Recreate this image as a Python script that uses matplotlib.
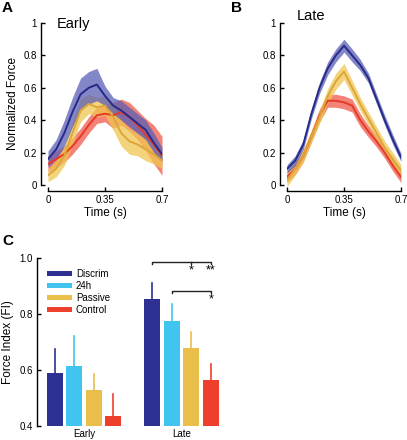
import matplotlib
matplotlib.use("Agg")
import matplotlib.pyplot as plt
import numpy as np

plt.rcParams['font.family'] = ['Liberation Sans', 'DejaVu Sans']

# ---- data ----
time = [0, 0.05, 0.1, 0.15, 0.2, 0.25, 0.3, 0.35, 0.4, 0.45, 0.5, 0.55, 0.6, 0.65, 0.7]

early_discrim = [0.16, 0.22, 0.32, 0.45, 0.56, 0.60, 0.62, 0.55, 0.49, 0.46, 0.42, 0.38, 0.34, 0.26, 0.19]
early_discrim_err = [0.05, 0.06, 0.08, 0.09, 0.10, 0.10, 0.10, 0.06, 0.05, 0.06, 0.06, 0.06, 0.06, 0.06, 0.04]
early_passive = [0.06, 0.10, 0.18, 0.32, 0.46, 0.50, 0.48, 0.49, 0.42, 0.32, 0.27, 0.25, 0.22, 0.19, 0.15]
early_passive_err = [0.04, 0.05, 0.06, 0.07, 0.07, 0.06, 0.06, 0.06, 0.08, 0.08, 0.08, 0.07, 0.07, 0.06, 0.05]
early_control = [0.13, 0.16, 0.19, 0.24, 0.30, 0.37, 0.43, 0.44, 0.43, 0.45, 0.42, 0.37, 0.31, 0.25, 0.18]
early_control_err = [0.05, 0.05, 0.05, 0.05, 0.05, 0.05, 0.05, 0.05, 0.08, 0.08, 0.09, 0.09, 0.10, 0.12, 0.12]

late_discrim = [0.10, 0.15, 0.25, 0.44, 0.60, 0.72, 0.80, 0.86, 0.80, 0.74, 0.66, 0.53, 0.40, 0.28, 0.17]
late_discrim_err = [0.025, 0.03, 0.03, 0.03, 0.035, 0.04, 0.04, 0.04, 0.04, 0.035, 0.03, 0.03, 0.03, 0.03, 0.025]
late_passive = [0.03, 0.10, 0.18, 0.30, 0.42, 0.55, 0.64, 0.70, 0.60, 0.50, 0.41, 0.32, 0.23, 0.16, 0.09]
late_passive_err = [0.04, 0.04, 0.04, 0.04, 0.04, 0.045, 0.05, 0.05, 0.045, 0.04, 0.04, 0.04, 0.04, 0.04, 0.035]
late_control = [0.05, 0.10, 0.18, 0.30, 0.43, 0.52, 0.52, 0.51, 0.49, 0.40, 0.33, 0.27, 0.20, 0.12, 0.05]
late_control_err = [0.035, 0.035, 0.035, 0.035, 0.04, 0.04, 0.04, 0.04, 0.04, 0.04, 0.035, 0.035, 0.035, 0.035, 0.035]

groups = ['Discrim', '24h', 'Passive', 'Control']
phases = ['Early', 'Late']
fi_early = [0.59, 0.615, 0.53, 0.435]
fi_early_err = [0.085, 0.105, 0.055, 0.08]
fi_late = [0.855, 0.775, 0.68, 0.565]
fi_late_err = [0.055, 0.06, 0.055, 0.055]

bar_colors = ['#2e3192', '#41c4f0', '#eabe4b', '#ee3f2c']
band_cols = {'d': '#5a5fb5', 'p': '#f0c650', 'c': '#f05a48'}
line_cols = {'d': '#262a8a', 'p': '#dda53a', 'c': '#e53a28'}

W, H = 407, 440
fig = plt.figure(figsize=(W / 100, H / 100), dpi=100)

def px_axes(x0, x1, y0, y1):
    return fig.add_axes([x0 / W, 1 - y1 / H, (x1 - x0) / W, (y1 - y0) / H])

def style_curve_ax(ax):
    ax.set_xlim(0, 0.7)
    ax.set_ylim(0, 1)
    for s in ['top', 'right']:
        ax.spines[s].set_visible(False)
    ax.spines['left'].set_position(('outward', 5))
    ax.spines['bottom'].set_position(('outward', 4.5))
    ax.spines['left'].set_linewidth(1.0)
    ax.spines['bottom'].set_linewidth(1.0)
    ax.set_xticks([0, 0.35, 0.7])
    ax.set_xticklabels(['0', '0.35', '0.7'])
    ax.set_yticks([0, 0.2, 0.4, 0.6, 0.8, 1])
    ax.set_yticklabels(['0', '0.2', '0.4', '0.6', '0.8', '1'])
    ax.tick_params(direction='in', length=3, width=1, labelsize=7, pad=3)
    ax.set_xlabel('Time (s)', fontsize=8.5, labelpad=1)
    ax.patch.set_alpha(0)

def draw_series(ax, m, e, key):
    m = np.array(m); e = np.array(e)
    ax.fill_between(time, m - e, m + e, color=band_cols[key], alpha=0.75, lw=0)
    ax.plot(time, m, color=line_cols[key], lw=1.4)

axA = px_axes(48, 162, 23, 185)
draw_series(axA, early_control, early_control_err, 'c')
draw_series(axA, early_passive, early_passive_err, 'p')
draw_series(axA, early_discrim, early_discrim_err, 'd')
style_curve_ax(axA)
axA.set_ylabel('Normalized Force', fontsize=8.5, labelpad=3)
fig.text(57 / W, 1 - 24 / H, 'Early', fontsize=10.5, va='center', ha='left')

axB = px_axes(287, 401, 23, 185)
draw_series(axB, late_control, late_control_err, 'c')
draw_series(axB, late_passive, late_passive_err, 'p')
draw_series(axB, late_discrim, late_discrim_err, 'd')
style_curve_ax(axB)
fig.text(297 / W, 1 - 16 / H, 'Late', fontsize=10.5, va='center', ha='left')

# Panel C
axC = px_axes(37, 222.6, 258, 426)
pos_early = np.arange(4)
pos_late = np.arange(4) + 5
for i in range(4):
    axC.bar(pos_early[i], fi_early[i] - 0.4, bottom=0.4, width=0.82, color=bar_colors[i], label=groups[i])
    axC.bar(pos_late[i], fi_late[i] - 0.4, bottom=0.4, width=0.82, color=bar_colors[i])
    axC.plot([pos_early[i], pos_early[i]], [fi_early[i], fi_early[i] + fi_early_err[i]], color=bar_colors[i], lw=1.2)
    axC.plot([pos_late[i], pos_late[i]], [fi_late[i], fi_late[i] + fi_late_err[i]], color=bar_colors[i], lw=1.2)
axC.set_xlim(-0.92, 8.6)
axC.set_ylim(0.4, 1.0)
for s in ['top', 'right', 'bottom']:
    axC.spines[s].set_visible(False)
axC.spines['left'].set_linewidth(1.0)
axC.set_yticks([0.4, 0.6, 0.8, 1.0])
axC.set_yticklabels(['0.4', '0.6', '0.8', '1.0'])
axC.tick_params(axis='y', direction='in', length=3, width=1, labelsize=7, pad=3)
axC.set_xticks([1.5, 6.5])
axC.set_xticklabels(phases)
axC.tick_params(axis='x', length=0, labelsize=7, pad=2)
axC.set_ylabel('Force Index (FI)', fontsize=8.5, labelpad=4)
axC.patch.set_alpha(0)

# significance brackets
yb1 = 0.986
axC.plot([5, 5, 8, 8], [yb1 - 0.008, yb1, yb1, yb1 - 0.008], color='#222222', lw=1.0)
axC.plot([7, 7], [yb1, yb1 - 0.008], color='#222222', lw=1.0)
axC.text(7, yb1 - 0.008, '*', ha='center', va='top', fontsize=9)
axC.text(8, yb1 - 0.008, '**', ha='center', va='top', fontsize=9)
yb2 = 0.883
axC.plot([6, 6, 8, 8], [yb2 - 0.008, yb2, yb2, yb2 - 0.008], color='#222222', lw=1.0)
axC.text(8, yb2 - 0.008, '*', ha='center', va='top', fontsize=9)

axC.legend(loc='upper left', bbox_to_anchor=(0.055, 0.935), frameon=False, fontsize=7,
           handlelength=2.5, handleheight=0.45, labelspacing=0.22, handletextpad=0.45,
           borderaxespad=0, borderpad=0)

fig.text(2 / W, 1 - 8 / H, 'A', fontsize=11, fontweight='bold', va='center', ha='left')
fig.text(231 / W, 1 - 8 / H, 'B', fontsize=11, fontweight='bold', va='center', ha='left')
fig.text(2 / W, 1 - 241 / H, 'C', fontsize=11, fontweight='bold', va='center', ha='left')

fig.savefig('out.png', dpi=100)
